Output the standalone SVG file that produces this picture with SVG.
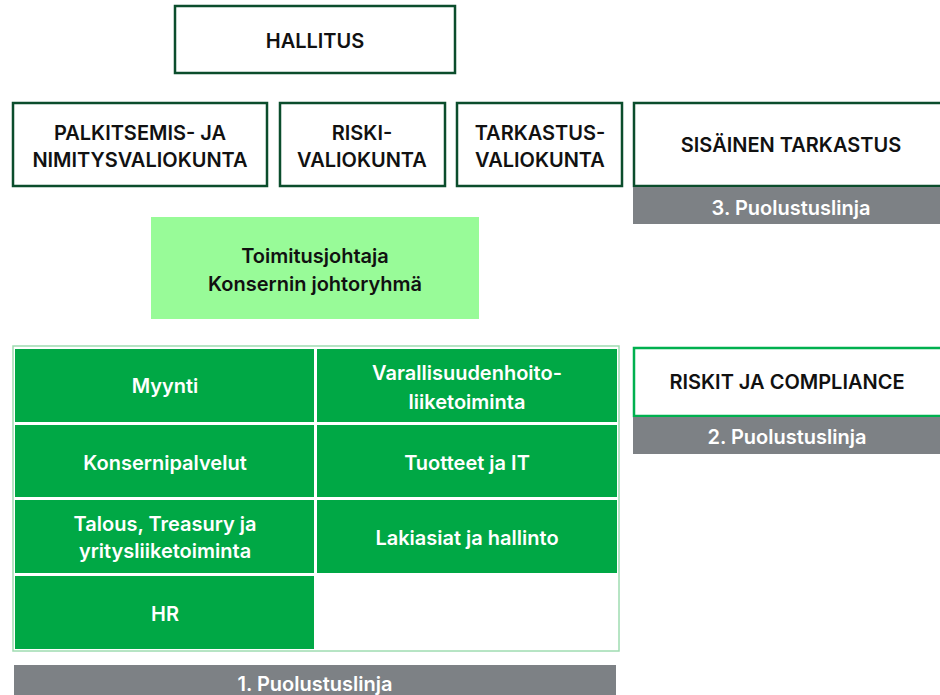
<svg xmlns="http://www.w3.org/2000/svg" width="940" height="695" viewBox="0 0 940 695">
<style>
text{font-family:Inter,"Liberation Sans",sans-serif;font-weight:600;font-size:20px;text-anchor:middle}
.box{fill:#fff;stroke:#0b4d2c;stroke-width:2.5}
.risk{fill:#fff;stroke:#00b04f;stroke-width:2.5}
.dark{fill:#111}
.w{fill:#fff}
.bar{fill:#7d8185}
.cell{fill:#00a845}
</style>
<g id="hallitus"><rect class="box" x="175" y="6" width="280" height="67"/><text class="dark" x="315" y="48">HALLITUS</text></g>
<g id="palkitsemis"><rect class="box" x="13" y="103" width="254" height="83"/><text class="dark" x="140" y="140">PALKITSEMIS- JA</text><text class="dark" x="140" y="167">NIMITYSVALIOKUNTA</text></g>
<g id="riski"><rect class="box" x="280" y="103" width="165" height="83"/><text class="dark" x="362" y="140">RISKI-</text><text class="dark" x="362" y="167">VALIOKUNTA</text></g>
<g id="tarkastus"><rect class="box" x="457" y="103" width="165" height="83"/><text class="dark" x="540" y="140">TARKASTUS-</text><text class="dark" x="540" y="167">VALIOKUNTA</text></g>
<g id="sisainen"><rect class="box" x="634" y="103" width="320" height="83"/><rect class="bar" x="633" y="187" width="320" height="37"/><text class="dark" x="791" y="152">SISÄINEN TARKASTUS</text><text class="w" x="791" y="215">3. Puolustuslinja</text></g>
<g id="toimitusjohtaja"><rect fill="#98fb98" x="151" y="217" width="328" height="102"/><text class="dark" x="315" y="263">Toimitusjohtaja</text><text class="dark" x="315" y="291">Konsernin johtoryhmä</text></g>
<g id="grid"><rect fill="#fff" stroke="#9fdcb1" stroke-width="1.5" x="13" y="346" width="606" height="305"/></g>
<g id="myynti"><rect class="cell" x="15" y="349" width="299" height="73"/><text class="w" x="165" y="393">Myynti</text></g>
<g id="varallisuus"><rect class="cell" x="317" y="349" width="300" height="73"/><text class="w" x="467" y="380">Varallisuudenhoito-</text><text class="w" x="467" y="409">liiketoiminta</text></g>
<g id="konsernipalvelut"><rect class="cell" x="15" y="425" width="299" height="72"/><text class="w" x="165" y="470">Konsernipalvelut</text></g>
<g id="tuotteet"><rect class="cell" x="317" y="425" width="300" height="72"/><text class="w" x="467" y="470">Tuotteet ja IT</text></g>
<g id="talous"><rect class="cell" x="15" y="500" width="299" height="73"/><text class="w" x="165" y="531">Talous, Treasury ja</text><text class="w" x="165" y="558">yritysliiketoiminta</text></g>
<g id="lakiasiat"><rect class="cell" x="317" y="500" width="300" height="73"/><text class="w" x="467" y="545">Lakiasiat ja hallinto</text></g>
<g id="hr"><rect class="cell" x="15" y="576" width="299" height="73"/><text class="w" x="165" y="621">HR</text></g>
<g id="linja1"><rect class="bar" x="14" y="665" width="602" height="32"/><text class="w" x="315" y="691">1. Puolustuslinja</text></g>
<g id="riskit"><rect class="risk" x="634" y="348" width="320" height="68"/><rect class="bar" x="633" y="417" width="320" height="37"/><text class="dark" x="787" y="389">RISKIT JA COMPLIANCE</text><text class="w" x="787" y="444">2. Puolustuslinja</text></g>
<g id="connectors"></g>
</svg>
